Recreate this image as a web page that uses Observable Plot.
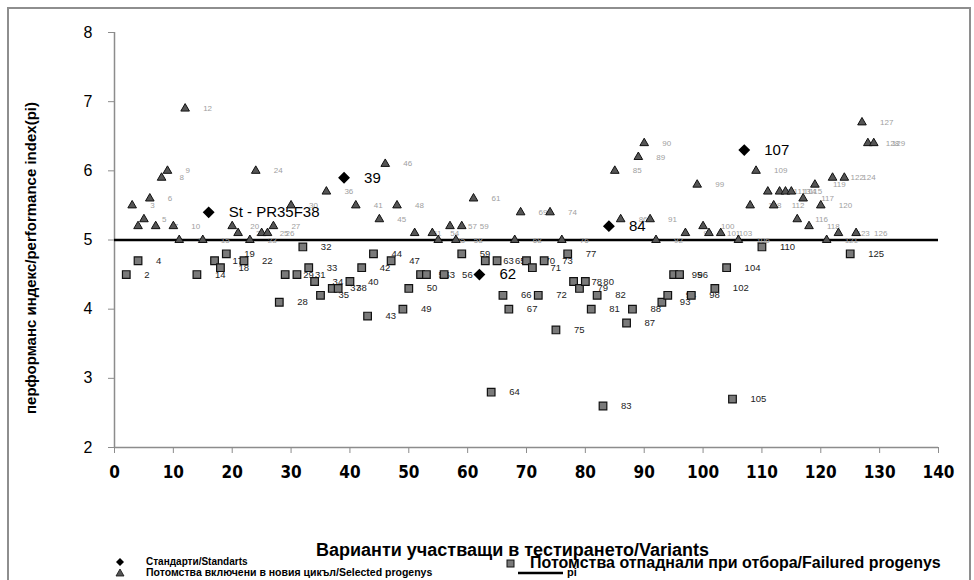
<!DOCTYPE html>
<html>
<head>
<meta charset="utf-8">
<script src="https://cdn.jsdelivr.net/npm/d3@7"></script>
<script src="https://cdn.jsdelivr.net/npm/@observablehq/plot@0.6"></script>
<style>
  html, body { margin: 0; padding: 0; background: #fff; }
  #wrap { position: relative; width: 974px; height: 580px; background: #fff; overflow: hidden; font-family: "Liberation Sans", Arial, sans-serif; }
  #wrap svg.plot { position: absolute; left: 0; top: 0; }
  .border { position: absolute; left: 7px; top: 7px; width: 964px; height: 590px; border: 2px solid #8e8e8e; box-sizing: border-box; }
  .ytitle { position: absolute; left: 30px; top: 258px; transform: translate(-50%, -50%) rotate(-90deg); white-space: nowrap; font-weight: bold; font-size: 15px; }
  .xtitle { position: absolute; left: 316px; top: 540px; white-space: nowrap; font-weight: bold; font-size: 18px; line-height: 20px; }
  .leg { position: absolute; white-space: nowrap; font-weight: bold; display: flex; align-items: center; line-height: 1; }
  .leg svg { display: block; }
</style>
</head>
<body>
<div id="wrap">
  <div class="border"></div>
</div>
<script>
// ---- data ----
const xTicks = [0, 10, 20, 30, 40, 50, 60, 70, 80, 90, 100, 110, 120, 130, 140];
const yTicks = [2, 3, 4, 5, 6, 7, 8];
const piValue = 5;

const standardX = [16, 39, 62, 84, 107];
const standardY = [5.4, 5.9, 4.5, 5.2, 6.3];
const standardLabels = ["St - PR35F38", "39", "62", "84", "107"];

const failedX = [2, 4, 14, 17, 18, 19, 22, 28, 29, 31, 32, 33, 34, 35, 37, 38, 40, 42, 43, 44,
  47, 49, 50, 52, 53, 56, 59, 63, 64, 65, 66, 67, 70, 71, 72, 73, 75, 77, 78, 79,
  80, 81, 82, 83, 87, 88, 93, 94, 95, 96, 98, 102, 104, 105, 110, 125];
const failedY = [4.5, 4.7, 4.5, 4.7, 4.6, 4.8, 4.7, 4.1, 4.5, 4.5, 4.9, 4.6, 4.4, 4.2, 4.3, 4.3, 4.4, 4.6, 3.9, 4.8,
  4.7, 4.0, 4.3, 4.5, 4.5, 4.5, 4.8, 4.7, 2.8, 4.7, 4.2, 4.0, 4.7, 4.6, 4.2, 4.7, 3.7, 4.8, 4.4, 4.3,
  4.4, 4.0, 4.2, 2.6, 3.8, 4.0, 4.1, 4.2, 4.5, 4.5, 4.2, 4.3, 4.6, 2.7, 4.9, 4.8];

const selectedX = [3, 4, 5, 6, 7, 8, 9, 10, 11, 12, 15, 20, 21, 23, 24, 25, 26, 27, 30,
  36, 41, 45, 46, 48, 51, 54, 55, 57, 58, 59, 61, 68, 69, 74, 76, 85, 86, 89, 90, 91, 92,
  97, 99, 100, 101, 103, 106, 108, 109, 111, 112, 113, 114, 115, 116, 117, 118, 119, 120,
  121, 122, 123, 124, 126, 127, 128, 129];
const selectedY = [5.5, 5.2, 5.3, 5.6, 5.2, 5.9, 6.0, 5.2, 5.0, 6.9, 5.0, 5.2, 5.1, 5.0, 6.0, 5.1, 5.1, 5.2, 5.5,
  5.7, 5.5, 5.3, 6.1, 5.5, 5.1, 5.1, 5.0, 5.2, 5.0, 5.2, 5.6, 5.0, 5.4, 5.4, 5.0, 6.0, 5.3, 6.2, 6.4, 5.3, 5.0,
  5.1, 5.8, 5.2, 5.1, 5.1, 5.0, 5.5, 6.0, 5.7, 5.5, 5.7, 5.7, 5.7, 5.3, 5.6, 5.2, 5.8, 5.5,
  5.0, 5.9, 5.1, 5.9, 5.1, 6.7, 6.4, 6.4];
const selectedUnlabeled = [1]; // index of the unlabeled triangle

// ---- tables ----
const standards = standardX.map((x, i) => ({x, y: standardY[i], label: standardLabels[i]}));
const failed = failedX.map((x, i) => ({x, y: failedY[i], label: String(x)}));
const selected = selectedX.map((x, i) => ({x, y: selectedY[i], label: selectedUnlabeled.includes(i) ? "" : String(x)}));

const chart = Plot.plot({
  width: 974,
  height: 580,
  marginLeft: 114,
  marginRight: 36,
  marginTop: 32,
  marginBottom: 133,
  style: {background: "transparent", fontFamily: "'Liberation Sans', Arial, sans-serif", color: "#000"},
  x: {domain: [0, 140]},
  y: {domain: [2, 8]},
  marks: [
    Plot.ruleY([2], {stroke: "#8c8c8c", strokeWidth: 1.5}),
    Plot.ruleX([0], {stroke: "#8c8c8c", strokeWidth: 1.5}),
    Plot.axisX({ticks: xTicks, tickSize: 6, tickPadding: 12, stroke: "#8c8c8c", fill: "#000",
      fontSize: 17, fontWeight: "bold", fontFamily: "'Liberation Sans Narrow', 'DejaVu Sans Condensed', sans-serif",
      label: null, tickFormat: d => String(d)}),
    Plot.axisY({ticks: yTicks, tickSize: 6, tickPadding: 16, stroke: "#8c8c8c", fill: "#000",
      fontSize: 16, label: null, tickFormat: d => String(d)}),
    Plot.ruleY([piValue], {stroke: "#000", strokeWidth: 2.5}),
    Plot.text(selected, {x: "x", y: "y", text: "label", dx: 18, textAnchor: "start", fontSize: 8, fill: "#a0a0a0"}),
    Plot.text(failed, {x: "x", y: "y", text: "label", dx: 18, textAnchor: "start", fontSize: 9.5, fill: "#222"}),
    Plot.text(standards, {x: "x", y: "y", text: "label", dx: 20, textAnchor: "start", fontSize: 15, fill: "#000"}),
    Plot.dot(failed, {x: "x", y: "y", symbol: "square", r: 4.3, fill: "#7a7a7a", stroke: "#111", strokeWidth: 1.2}),
    Plot.dot(selected, {x: "x", y: "y", symbol: "triangle", r: 3.2, fill: "#555", stroke: "#111", strokeWidth: 1}),
    Plot.dot(standards, {x: "x", y: "y", symbol: "diamond2", r: 4.4, fill: "#000", stroke: "#000"})
  ]
});
chart.classList.add("plot");
const wrap = document.getElementById("wrap");
wrap.insertBefore(chart, wrap.firstChild);

// ---- titles and legend ----
function add(html) { wrap.insertAdjacentHTML("beforeend", html); }
add(`<div class="ytitle">перформанс индекс/performance index(pi)</div>`);
add(`<div class="xtitle">Варианти участващи в тестирането/Variants</div>`);
add(`<div class="leg" style="left:115px;top:557px;font-size:10px">
  <svg width="10" height="10"><path d="M5 1 L9 5 L5 9 L1 5 Z" fill="#000"/></svg>
  <span style="margin-left:21px">Стандарти/Standarts</span></div>`);
add(`<div class="leg" style="left:506px;top:555px;font-size:16px">
  <svg width="9" height="9"><rect x="1" y="1" width="7" height="7" fill="#7a7a7a" stroke="#111" stroke-width="1"/></svg>
  <span style="margin-left:15px">Потомства отпаднали при отбора/Failured progenys</span></div>`);
add(`<div class="leg" style="left:115px;top:567px;font-size:10.5px">
  <svg width="10" height="10"><path d="M5 2 L9 9 L1 9 Z" fill="#555" stroke="#111" stroke-width="0.8"/></svg>
  <span style="margin-left:21px">Потомства включени в новия цикъл/Selected progenys</span></div>`);
add(`<div class="leg" style="left:518px;top:567px;font-size:11px">
  <svg width="45" height="10"><line x1="0" y1="5" x2="45" y2="5" stroke="#000" stroke-width="2.5"/></svg>
  <span style="margin-left:4px">pi</span></div>`);
</script>
</body>
</html>
